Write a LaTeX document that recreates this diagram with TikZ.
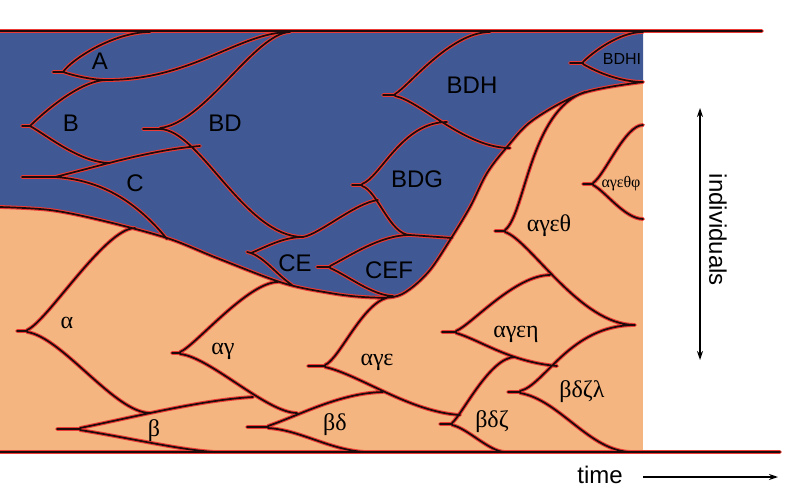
\documentclass[tikz,border=0pt]{standalone}
\usepackage{fontspec}
\setmainfont{Liberation Serif}
\newfontfamily\arialf{Liberation Sans}
\usetikzlibrary{arrows.meta}
\definecolor{bblue}{RGB}{64,89,149}
\definecolor{oorange}{RGB}{244,181,129}
\definecolor{lred}{RGB}{238,58,52}
\definecolor{lblk}{RGB}{30,10,10}
\begin{document}
\begin{tikzpicture}[x=1pt,y=-1pt,
  redl/.style={draw=lred,line width=3.8pt,line cap=round,line join=round},
  blkl/.style={draw=lblk,line width=1.7pt,line cap=round,line join=round},
  lat/.style={font=\arialf\fontsize{24}{24}\selectfont,inner sep=0pt,anchor=base},
  latsm/.style={font=\arialf\fontsize{16}{16}\selectfont,inner sep=0pt,anchor=base},
  grk/.style={font=\fontsize{24}{24}\selectfont,inner sep=0pt,anchor=base},
  grksm/.style={font=\fontsize{16}{16}\selectfont,inner sep=0pt,anchor=base},
  tip/.style={{Stealth[length=9pt,width=6pt]}-{Stealth[length=9pt,width=6pt]}}]
\useasboundingbox (0,0) rectangle (790,500);
\fill[white] (0,0) rectangle (790,500);
% regions
\fill[oorange] (0,31) rectangle (643,452);
\fill[bblue] (0,31) -- (643,31) -- plot[smooth,tension=0.55] coordinates {(643,82) (583,93) (533,120) (507,147) (487,173) (470,207) (450,240) (430,270) (410,289) (393,297) (363,297) (330,293) (283,283) (217,258) (167,238) (100,220) (50,210) (0,207)} -- cycle;
% lineages
\foreach \st in {redl,blkl}{
\draw[\st]
 (0,31) -- (762,31)
 (0,452) -- (780,452)
 plot[smooth,tension=0.55] coordinates {(643,82) (583,93) (533,120) (507,147) (487,173) (470,207) (450,240) (430,270) (410,289) (393,297) (363,297) (330,293) (283,283) (217,258) (167,238) (100,220) (50,210) (0,207)}
 % A
 (53,72) -- (63,72)
 (63,72) .. controls +(10,-14) and +(-35,0) .. (150,32)
 (63,72) .. controls +(12,4) and +(-15,0) .. (107,80)
 (107,80) .. controls +(85,0) and +(-50,0) .. (290,32)
 % B
 (22,126) -- (30,126)
 (30,126) .. controls +(10,-10) and +(-28,0) .. (107,80)
 (30,126) .. controls +(15,8) and +(-30,0) .. (110,163)
 % C
 (22,177) -- (55,177)
 (55,177) .. controls (100,166) and (150,150) .. (200,146)
 (55,177) .. controls (100,180) and (135,200) .. (167,239)
 % BD
 (143,129) -- (160,129)
 (160,128) .. controls (205,123) and (255,33) .. (290,32)
 (160,129) .. controls (200,130) and (245,237) .. (303,237)
 (303,237) .. controls (320,234) and (355,203) .. (378,200)
 % CE
 (247,252) -- (251,253)
 (251,253) .. controls +(15,-6) and +(-20,0) .. (303,237)
 (251,253) .. controls +(15,6) and +(-15,-10) .. (292,285)
 % CEF
 (317,267) -- (330,267)
 (330,266) .. controls +(20,-10) and +(-30,0) .. (410,235)
 (330,268) .. controls +(15,6) and +(-20,0) .. (393,296)
 % BDG
 (352,185) -- (362,185)
 (362,184) .. controls +(18,-6) and +(-45,0) .. (447,122)
 (362,186) .. controls +(15,4) and +(-20,0) .. (410,235) -- (452,238)
 % BDH
 (383,95) -- (395,95)
 (395,94) .. controls +(12,-6) and +(-40,0) .. (490,32)
 (395,96) .. controls +(25,5) and +(-45,0) .. (510,148)
 % BDHI
 (570,63) -- (583,63)
 (583,62) .. controls +(8,-8) and +(-25,0) .. (643,32)
 (583,64) .. controls +(10,6) and +(-25,0) .. (643,82)
 % alpha
 (17,331) -- (27,331)
 (27,330) .. controls +(20,-8) and +(-30,0) .. (135,228)
 (27,332) .. controls +(35,5) and +(-35,0) .. (150,413)
 % beta
 (57,429) -- (80,429)
 (80,428) .. controls (130,418) and (200,400) .. (253,397)
 (80,430) .. controls (130,438) and (180,450) .. (215,452)
 % alpha gamma
 (172,353) -- (180,353)
 (180,352) .. controls +(15,-6) and +(-30,0) .. (278,282)
 (180,354) .. controls +(30,3) and +(-30,0) .. (297,413)
 % beta delta
 (247,427) -- (268,427)
 (268,426) .. controls (300,415) and (340,393) .. (383,392)
 (268,428) .. controls (300,430) and (330,450) .. (365,452)
 % alpha gamma epsilon
 (308,366) -- (325,366)
 (325,365) .. controls (340,359) and (365,297) .. (392,297)
 (325,367) .. controls (360,375) and (410,412) .. (460,415)
 % beta delta zeta
 (440,424) -- (452,424)
 (452,423) .. controls +(10,-8) and +(-25,0) .. (515,357)
 (452,425) .. controls +(15,3) and +(-15,0) .. (505,452)
 % alpha gamma epsilon eta
 (442,332) -- (456,332)
 (456,331) .. controls +(15,-6) and +(-35,0) .. (550,275)
 (456,333) .. controls (480,340) and (510,362) .. (557,366)
 % alpha gamma epsilon theta
 (495,231) -- (505,231)
 (505,230) .. controls (525,215) and (530,110) .. (585,92)
 (505,232) .. controls (530,240) and (580,325) .. (635,325)
 % beta delta zeta lambda
 (508,392) -- (520,392)
 (520,391) .. controls (545,385) and (570,325) .. (635,325)
 (520,393) .. controls (560,400) and (590,452) .. (632,452)
 % alpha gamma epsilon theta phi
 (583,184) -- (593,184)
 (593,183) .. controls +(12,-8) and +(-18,0) .. (643,125)
 (593,185) .. controls +(12,6) and +(-18,0) .. (643,219);
}
% labels
\node[lat] (lA) at (100,70) {A};
\node[lat] (lB) at (71,132) {B};
\node[lat] (lC) at (135,192) {C};
\node[lat] (lBD) at (225,132) {BD};
\node[lat] (lBDH) at (472,94) {BDH};
\node[latsm] (lBDHI) at (622,65) {BDHI};
\node[lat] (lBDG) at (417,187) {BDG};
\node[lat] (lCE) at (295,271) {CE};
\node[lat] (lCEF) at (389,278) {CEF};
\node[grk] (la) at (67,328) {α};
\node[grk] (lag) at (223,354) {αγ};
\node[grk] (lb) at (154,436) {β};
\node[grk] (lbd) at (335,430) {βδ};
\node[grk] (lage) at (377,365) {αγε};
\node[grk] (lageth) at (549,231) {αγεθ};
\node[grk] (lageh) at (516,337) {αγεη};
\node[grk] (lbdz) at (492,427) {βδζ};
\node[grk] (lbdzl) at (582,397) {βδζλ};
\node[grksm] (lagethph) at (621,187) {αγεθφ};
% axes
\coordinate (iTop) at (700,108);
\coordinate (iBot) at (700,360);
\draw[tip,line width=1.3pt] (iTop) -- (iBot);
\node[font=\arialf\fontsize{24}{24}\selectfont,rotate=-90,inner sep=0pt] (lind) at (718,230) {individuals};
\node[lat] (ltime) at (600,483) {time};
\coordinate (tL) at (643,477);
\coordinate (tR) at (778,477);
\draw[-{Stealth[length=9pt,width=6pt]},line width=1.3pt] (tL) -- (tR);
\end{tikzpicture}
\end{document}
